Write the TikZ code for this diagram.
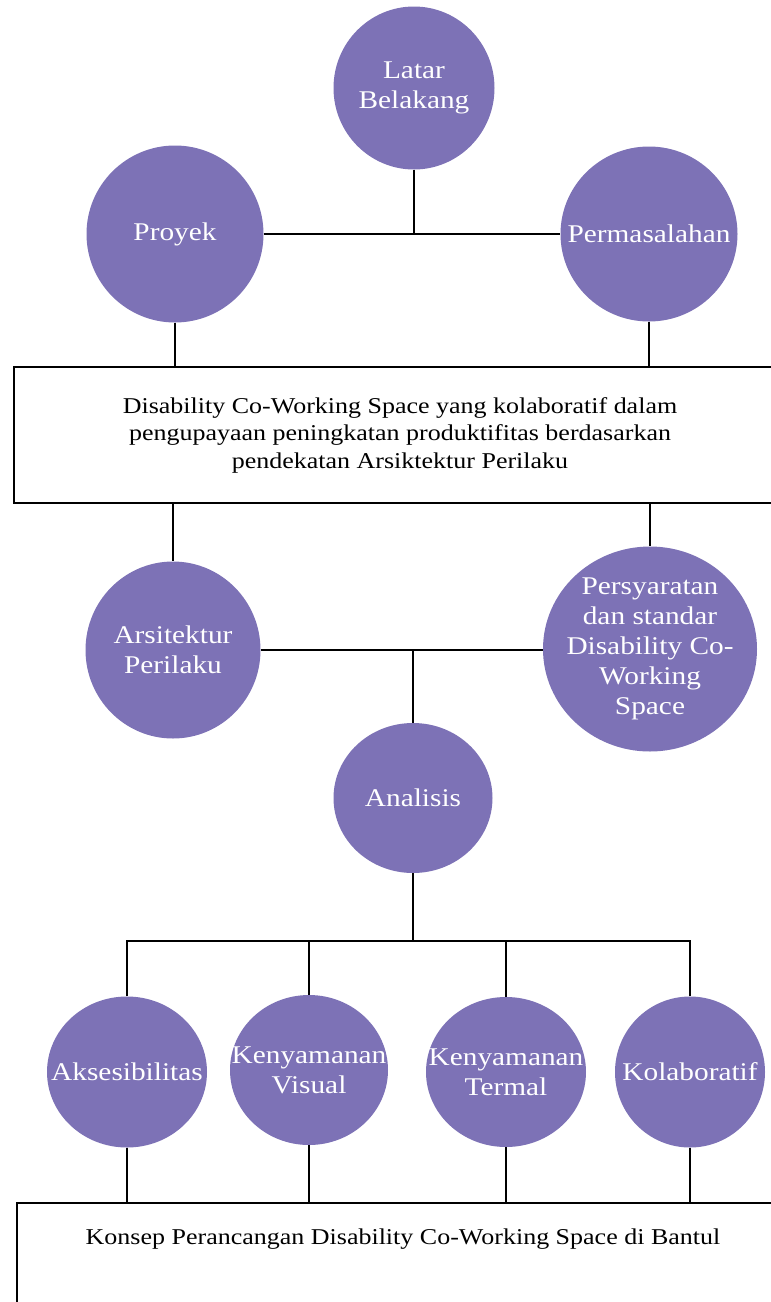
\documentclass[tikz,border=0pt]{standalone}
\usepackage{fontspec}
\setmainfont{Liberation Serif}[FakeStretch=1.15]
\usepackage{xcolor}
\usetikzlibrary{shapes.geometric,positioning}
\definecolor{bubble}{RGB}{125,114,182}

\begin{document}
\begin{tikzpicture}[x=1pt, y=-1pt,
  bub/.style={ellipse, fill=bubble, text=white, inner sep=-60pt, align=center,
              font=\fontsize{25.5}{30}\selectfont},
  box/.style={draw, line width=1.5pt, fill=white, minimum width=772pt, align=center,
              font=\fontsize{22.6}{27.5}\selectfont},
  ln/.style={line width=1.6pt}
]
  \useasboundingbox (0,0) rectangle (771,1302);
  \clip (0,0) rectangle (771,1302);

  \node[bub, minimum width=161pt, minimum height=163pt] (latar)   at (414,88)  {Latar\\Belakang};
  \node[bub, minimum width=177pt, minimum height=177pt] (proyek)  at (175,234) {Proyek};
  \node[bub, minimum width=177pt, minimum height=175pt] (masalah) at (649,234) {Permasalahan};

  \node[box, minimum height=136pt] (isu) at (400,435)
    {Disability Co-Working Space yang kolaboratif dalam\\
     pengupayaan peningkatan produktifitas berdasarkan\\
     pendekatan Arsiktektur Perilaku};

  \node[bub, minimum width=175pt, minimum height=177pt] (arsitektur) at (173,650) {Arsitektur\\Perilaku};
  \node[bub, minimum width=214pt, minimum height=205pt] (syarat)     at (650,649)
    {Persyaratan\\dan standar\\Disability Co-\\Working\\Space};
  \node[bub, minimum width=159pt, minimum height=150pt] (analisis)   at (413,798) {Analisis};

  \node[bub, minimum width=160pt, minimum height=151pt] (akses)  at (127,1072) {Aksesibilitas};
  \node[bub, minimum width=158pt, minimum height=150pt] (visual) at (309,1070) {Kenyamanan\\Visual};
  \node[bub, minimum width=160pt, minimum height=150pt] (termal) at (506,1072) {Kenyamanan\\Termal};
  \node[bub, minimum width=150pt, minimum height=151pt] (kolab)  at (690,1072) {Kolaboratif};

  \node[box, anchor=north, inner ysep=27pt, text height=15pt, text depth=100pt] (konsep) at (403,1202)
    {Konsep Perancangan Disability Co-Working Space di Bantul};

  % connectors
  \draw[ln] (latar) -- (latar |- proyek);
  \draw[ln] (proyek) -- (masalah);
  \draw[ln] (proyek) -- (proyek |- isu.north);
  \draw[ln] (masalah) -- (masalah |- isu.north);
  \draw[ln] (isu.south -| arsitektur) -- (arsitektur);
  \draw[ln] (isu.south -| syarat) -- (syarat);
  \draw[ln] (arsitektur.east) -- (arsitektur.east -| syarat.west);
  \draw[ln] (analisis) -- (analisis |- arsitektur);

  \coordinate (bar) at (413,941);
  \draw[ln] (analisis) -- (bar);
  \foreach \n in {akses,visual,termal,kolab} {
    \draw[ln] (\n.north) |- (bar);
    \draw[ln] (\n) -- (\n |- konsep.north);
  }
\end{tikzpicture}
\end{document}
